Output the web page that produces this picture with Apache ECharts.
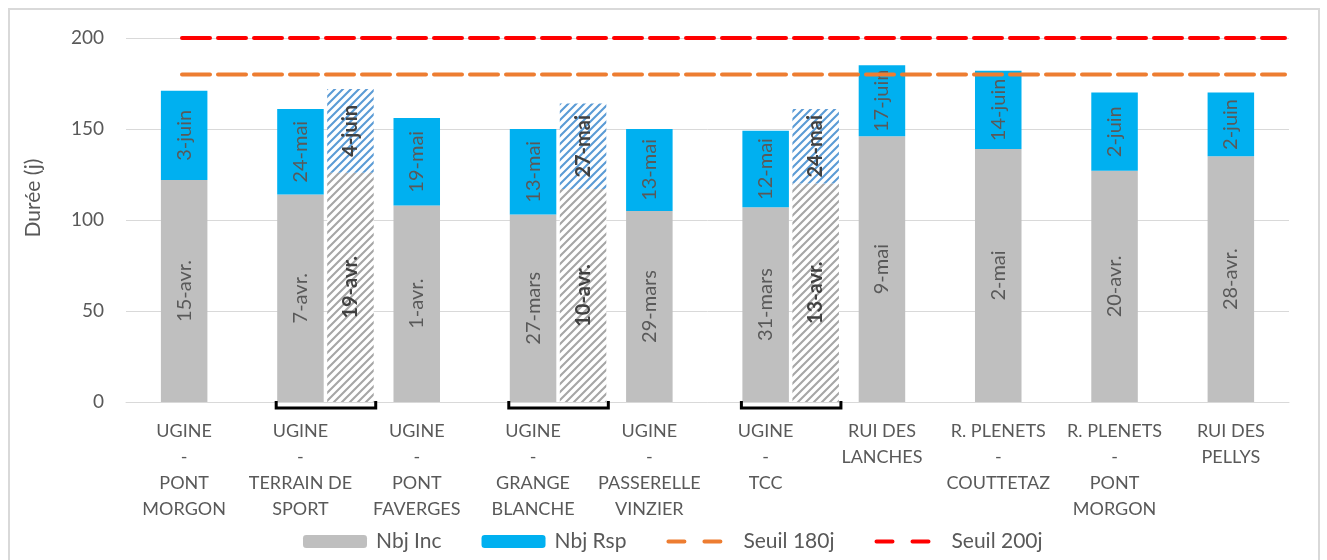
<!DOCTYPE html>
<html><head><meta charset="utf-8">
<script src="https://cdn.jsdelivr.net/npm/echarts@6/dist/echarts.min.js"></script>
<style>
html,body{margin:0;padding:0;background:#fff;overflow:hidden;}
#frame{position:absolute;left:8px;top:8px;width:1312px;height:600px;border:2px solid #d9d9d9;box-sizing:border-box;}
#chart{position:absolute;left:0;top:0;width:1327px;height:560px;}
</style></head><body>
<div id="frame"></div><div id="chart"></div>
<script>
// ---- data ----
const categories = ['UGINE\n-\nPONT\nMORGON', 'UGINE\n-\nTERRAIN DE\nSPORT', 'UGINE\n-\nPONT\nFAVERGES', 'UGINE\n-\nGRANGE\nBLANCHE', 'UGINE\n-\nPASSERELLE\nVINZIER', 'UGINE\n-\nTCC', 'RUI DES\nLANCHES', 'R. PLENETS\n-\nCOUTTETAZ', 'R. PLENETS\n-\nPONT\nMORGON', 'RUI DES\nPELLYS'];
const nbjInc = [122, 114, 108, 103, 105, 107, 146, 139, 127, 135];
const nbjRsp = [49, 47, 48, 47, 45, 42, 39, 43, 43, 35];
const incDates = ['15-avr.', '7-avr.', '1-avr.', '27-mars', '29-mars', '31-mars', '9-mai', '2-mai', '20-avr.', '28-avr.'];
const rspDates = ['3-juin', '24-mai', '19-mai', '13-mai', '13-mai', '12-mai', '17-juin', '14-juin', '2-juin', '2-juin'];
const altInc = [null, 126, null, 117, null, 120, null, null, null, null];
const altRsp = [null, 46, null, 47, null, 41, null, null, null, null];
const altIncDates = [null, '19-avr.', null, '10-avr.', null, '13-avr.', null, null, null, null];
const altRspDates = [null, '4-juin', null, '27-mai', null, '24-mai', null, null, null, null];
const seuil180 = [180, 180, 180, 180, 180, 180, 180, 180, 180, 180];
const seuil200 = [200, 200, 200, 200, 200, 200, 200, 200, 200, 200];
const yMin = 0, yMax = 200, yStep = 50;
const yName = 'Durée (j)';

// ---- styling helpers ----
const FONT = 'Lato';
const TXT = '#595959';
function stripes(color) {
  const c = document.createElement('canvas');
  c.width = 8; c.height = 8;
  const g = c.getContext('2d');
  g.fillStyle = '#ffffff'; g.fillRect(0, 0, 8, 8);
  g.strokeStyle = color; g.lineWidth = 2.1;
  g.beginPath();
  g.moveTo(-2, 10); g.lineTo(10, -2);
  g.moveTo(-2, 2); g.lineTo(2, -2);
  g.moveTo(6, 10); g.lineTo(10, 6);
  g.stroke();
  return c;
}
const greyPat = { image: stripes('#a6a6a6'), repeat: 'repeat' };
const bluePat = { image: stripes('#5b9bd5'), repeat: 'repeat' };

function barLabel(texts, bold) {
  return {
    show: true, position: 'inside', rotate: 90,
    fontFamily: FONT, fontSize: 20,
    fontWeight: bold ? 'bold' : 'normal',
    color: bold ? '#404040' : TXT,
    formatter: p => texts[p.dataIndex] || ''
  };
}
// two rounded dashes; trailing moveTo widens the icon box so the dashes keep their size
const dashIcon = 'path://M2,0h16a2,2 0 0 1 0,4h-16a2,2 0 0 1 0,-4z M38,0h16a2,2 0 0 1 0,4h-16a2,2 0 0 1 0,-4z M64,0';
const threshLine = (color) => ({ color: color, width: 4, type: [28, 8], cap: 'round' });

const bracketIdx = altInc.map((v, i) => v == null ? null : [i]).filter(v => v);

const chart = echarts.init(document.getElementById('chart'), null, { renderer: 'canvas' });
chart.setOption({
  animation: false,
  textStyle: { fontFamily: FONT },
  grid: [
    { left: 126, right: 38, top: 38, bottom: 158, containLabel: false },
    { left: 182, right: 42, top: 38, bottom: 158, containLabel: false }
  ],
  graphic: [{
    type: 'text', x: 33, y: 198, rotation: Math.PI / 2,
    style: { text: yName, fill: TXT, font: '21px Lato', align: 'center', verticalAlign: 'middle' }
  }],
  legend: {
    top: 526, left: 298,
    itemWidth: 64, itemHeight: 13, itemGap: 40,
    textStyle: { fontFamily: FONT, fontSize: 21, color: TXT, padding: [0, 0, 0, 4] },
    data: [
      { name: 'Nbj Inc' },
      { name: 'Nbj Rsp' },
      { name: 'Seuil 180j', icon: dashIcon, itemStyle: { color: '#ed7d31', borderWidth: 0 },
        textStyle: { padding: [0, 0, 0, 8] } },
      { name: 'Seuil 200j', icon: dashIcon, itemStyle: { color: '#ff0000', borderWidth: 0 },
        textStyle: { padding: [0, 0, 0, 8] } }
    ]
  },
  xAxis: [
    {
      type: 'category', data: categories, gridIndex: 0,
      axisLine: { lineStyle: { color: '#d9d9d9', width: 1 } },
      axisTick: { show: false },
      axisLabel: { color: TXT, fontFamily: FONT, fontSize: 18, lineHeight: 26, margin: 16, interval: 0 }
    },
    { type: 'category', data: categories, gridIndex: 0, show: false },
    { type: 'category', data: categories, gridIndex: 1, show: false, boundaryGap: false }
  ],
  yAxis: [
    {
      type: 'value', min: yMin, max: yMax, interval: yStep, gridIndex: 0,
      axisLine: { show: false }, axisTick: { show: false },
      axisLabel: { color: TXT, fontFamily: FONT, fontSize: 19, margin: 22 },
      splitLine: { lineStyle: { color: '#d9d9d9', width: 1 } }
    },
    { type: 'value', min: yMin, max: yMax, interval: yStep, gridIndex: 1, show: false, splitLine: { show: false } }
  ],
  series: [
    { name: 'Nbj Inc', type: 'bar', stack: 'main', xAxisIndex: 0, yAxisIndex: 0, barWidth: '40%',
      itemStyle: { color: '#bfbfbf' }, label: barLabel(incDates, false), data: nbjInc },
    { name: 'Nbj Rsp', type: 'bar', stack: 'main', xAxisIndex: 0, yAxisIndex: 0, barWidth: '40%',
      itemStyle: { color: '#00b0f0' }, label: barLabel(rspDates, false), data: nbjRsp },
    { name: 'spacer', type: 'bar', stack: 'spacer', xAxisIndex: 1, yAxisIndex: 0, barWidth: '40%', barGap: '115%',
      itemStyle: { color: 'transparent' }, data: categories.map(() => '-') },
    { name: 'alt Inc', type: 'bar', stack: 'alt', xAxisIndex: 1, yAxisIndex: 0, barWidth: '40%', barGap: '115%',
      itemStyle: { color: greyPat }, label: barLabel(altIncDates, true), data: altInc },
    { name: 'alt Rsp', type: 'bar', stack: 'alt', xAxisIndex: 1, yAxisIndex: 0, barWidth: '40%', barGap: '115%',
      itemStyle: { color: bluePat }, label: barLabel(altRspDates, true), data: altRsp },
    { name: 'Seuil 180j', type: 'line', xAxisIndex: 2, yAxisIndex: 1, symbol: 'none', z: 5,
      itemStyle: { color: '#ed7d31' }, lineStyle: threshLine('#ed7d31'), data: seuil180 },
    { name: 'Seuil 200j', type: 'line', xAxisIndex: 2, yAxisIndex: 1, symbol: 'none', z: 5,
      itemStyle: { color: '#ff0000' }, lineStyle: threshLine('#ff0000'), data: seuil200 },
    { name: 'bracket', type: 'custom', xAxisIndex: 0, yAxisIndex: 0, z: 6, clip: false,
      data: bracketIdx,
      renderItem: function (params, api) {
        const base = api.coord([api.value(0), 0]);
        const band = api.size([1, 0])[0];
        const bw = band * 0.4;
        const x1 = base[0] - bw / 2 - 1;
        const x2 = base[0] + bw * 2.15 / 2 + bw / 2 + 2;
        const y0 = base[1] - 1, y1 = base[1] + 6;
        return {
          type: 'polyline',
          shape: { points: [[x1, y0], [x1, y1], [x2, y1], [x2, y0]] },
          style: { stroke: '#000', lineWidth: 3, fill: null }
        };
      }
    }
  ]
});
</script>
</body></html>
